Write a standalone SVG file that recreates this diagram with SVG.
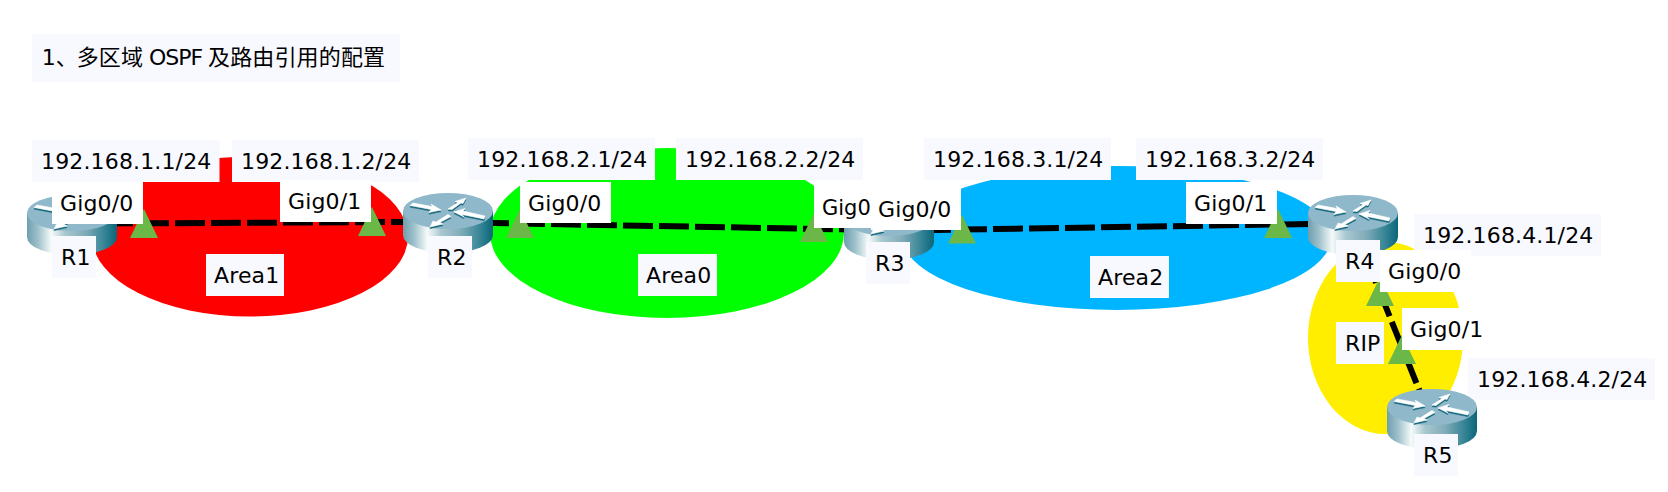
<svg xmlns="http://www.w3.org/2000/svg" xmlns:xlink="http://www.w3.org/1999/xlink" width="1668" height="492" viewBox="0 0 1668 492">
<style>
text{font-family:"DejaVu Sans","Noto Sans CJK SC",sans-serif;font-size:22px;fill:#000;letter-spacing:.15px}
.b{fill:#f8f9ff}
.w{fill:#fff}
.link{fill:none;stroke:#000;stroke-width:6;stroke-dasharray:30 6}
.tri{fill:#6bb748}
.arrow{fill:#fff;stroke:#fff;stroke-width:.6}
.shade{fill:#0f6377;stroke:#0f6377;stroke-width:.6}
</style>
<defs>
<linearGradient id="body" x1="0" y1="0" x2="1" y2="0">
<stop offset="0" stop-color="#6f9fae"/>
<stop offset=".12" stop-color="#9cc0ca"/>
<stop offset=".27" stop-color="#f6fafa"/>
<stop offset=".42" stop-color="#a9c8d0"/>
<stop offset=".65" stop-color="#7fabb8"/>
<stop offset=".88" stop-color="#2e8092"/>
<stop offset="1" stop-color="#0c6578"/>
</linearGradient>
<g id="router">
<path d="M0 18V42A45 18 0 0 0 90 42V18Z" fill="url(#body)"/>
<ellipse cx="45" cy="18" rx="45" ry="18" fill="#8fb8ca"/>
<g class="shade" transform="translate(0 1.6)">
<path d="M7 12.5L10 10L29 13.500L28 11L38 17L26 19.500L28 16.500Z"/>
<path d="M45 16L55 9.500L52 8.500L63 5L60 10.500L58 10L49 16.500Z"/>
<path d="M82 23L81 26L59 21.500L61 24L51 19L62 15.500L60 18Z"/>
<path d="M45 21.500L48 23.500L37 29.500L40 31L27 34L30 28L33 29Z"/>
</g>
<g class="arrow">
<path d="M7 12.5L10 10L29 13.500L28 11L38 17L26 19.500L28 16.500Z"/>
<path d="M45 16L55 9.500L52 8.500L63 5L60 10.500L58 10L49 16.500Z"/>
<path d="M82 23L81 26L59 21.500L61 24L51 19L62 15.500L60 18Z"/>
<path d="M45 21.500L48 23.500L37 29.500L40 31L27 34L30 28L33 29Z"/>
</g>
</g>
</defs>
<rect width="1668" height="492" fill="#fff"/>
<g id="areas">
<ellipse id="area-rip" cx="1385.5" cy="338" rx="77.5" ry="96" fill="#ffee00"/>
<ellipse id="area1" cx="250" cy="236.5" rx="158" ry="80" fill="#ff0000"/>
<ellipse id="area0" cx="667" cy="233" rx="177" ry="85" fill="#00ff00"/>
<ellipse id="area2" cx="1117" cy="238" rx="214" ry="72" fill="#00b5ff"/>
</g>
<g id="title"><rect class="b" x="32" y="34" width="368" height="48"/><text y="65"><tspan x="41.7">1、</tspan><tspan x="76.7">多区域 </tspan><tspan x="149" letter-spacing="-1">OSPF </tspan><tspan x="208">及路由引用的配置</tspan></text></g>
<g id="ip-labels">
<g id="ip-r1"><rect class="b" x="32" y="140" width="187.500" height="42"/><text x="41" y="169">192.168.1.1/24</text></g>
<g id="ip-r2-a"><rect class="b" x="232" y="140" width="187" height="42"/><text x="241" y="169">192.168.1.2/24</text></g>
<g id="ip-r2-b"><rect class="b" x="468" y="138" width="187" height="42"/><text x="477" y="167">192.168.2.1/24</text></g>
<g id="ip-r3-a"><rect class="b" x="676" y="138" width="187" height="42"/><text x="685" y="167">192.168.2.2/24</text></g>
<g id="ip-r3-b"><rect class="b" x="924" y="138" width="187" height="42"/><text x="933" y="167">192.168.3.1/24</text></g>
<g id="ip-r4-a"><rect class="b" x="1136" y="138" width="187" height="42"/><text x="1145" y="167">192.168.3.2/24</text></g>
<g id="ip-r4-b"><rect class="b" x="1414" y="214" width="187" height="42"/><text x="1423" y="243">192.168.4.1/24</text></g>
<g id="ip-r5"><rect class="b" x="1468" y="358" width="187" height="42"/><text x="1477" y="387">192.168.4.2/24</text></g>
</g>
<g id="connectors">
<path class="link" d="M103 223.500L410 222"/>
<path class="link" d="M479 222.800L850 229.500"/>
<path class="link" d="M921 230.200L1315 223.900"/>
<path class="link" d="M1365 255L1420 392"/>
</g>
<g id="R1"><use href="#router" xlink:href="#router" x="27" y="195"/></g>
<g id="R2"><use href="#router" xlink:href="#router" x="403" y="193"/></g>
<g id="R3"><use href="#router" xlink:href="#router" x="844" y="200"/></g>
<g id="R4"><use href="#router" xlink:href="#router" x="1308" y="195"/></g>
<g id="R5"><use href="#router" xlink:href="#router" x="1387" y="389"/></g>
<g id="ports">
<polygon class="tri" points="130,238 158,238 144,209"/>
<polygon class="tri" points="358,236 386,236 372,207"/>
<polygon class="tri" points="506,238 534,238 520,209"/>
<polygon class="tri" points="800,242 828,242 814,213"/>
<polygon class="tri" points="948,243.500 976,243.500 962,215"/>
<polygon class="tri" points="1264,238 1292,238 1278,209"/>
<polygon class="tri" points="1366,306 1394,306 1380,277"/>
<polygon class="tri" points="1388,364 1416,364 1402,335"/>
</g>
<g id="port-labels">
<g id="p1"><rect class="w" x="52" y="182" width="91" height="42"/><text x="60" y="211">Gig0/0</text></g>
<g id="p2"><rect class="w" x="280" y="180" width="91" height="42"/><text x="288" y="209">Gig0/1</text></g>
<g id="p3"><rect class="w" x="520" y="182" width="91" height="41"/><text x="528" y="211">Gig0/0</text></g>
<g id="p4"><rect class="w" x="814" y="185" width="91" height="43"/><text x="822" y="215" style="font-size:21px;letter-spacing:0">Gig0</text></g>
<g id="p5"><rect class="w" x="871" y="188" width="90" height="42"/><text x="878" y="217">Gig0/0</text></g>
<g id="p6"><rect class="w" x="1186" y="182" width="91" height="42"/><text x="1194" y="211">Gig0/1</text></g>
<g id="p7"><rect class="w" x="1380" y="250" width="91" height="42"/><text x="1388" y="279">Gig0/0</text></g>
<g id="p8"><rect class="w" x="1402" y="308" width="91" height="42"/><text x="1410" y="337">Gig0/1</text></g>
</g>
<g id="names">
<g><rect class="b" x="52" y="236" width="44" height="42"/><text x="61" y="265">R1</text></g>
<g><rect class="b" x="428" y="236" width="44" height="42"/><text x="437" y="265">R2</text></g>
<g><rect class="b" x="866" y="242" width="44" height="42"/><text x="875" y="271">R3</text></g>
<g><rect class="b" x="1336" y="240" width="44" height="42"/><text x="1345" y="269">R4</text></g>
<g><rect class="b" x="1414" y="434" width="44" height="42"/><text x="1423" y="463">R5</text></g>
<g><rect class="b" x="206" y="254" width="78" height="42"/><text x="214" y="283">Area1</text></g>
<g><rect class="b" x="638" y="254" width="79" height="42"/><text x="646" y="283">Area0</text></g>
<g><rect class="b" x="1090" y="256" width="79" height="42"/><text x="1098" y="285">Area2</text></g>
<g><rect class="b" x="1336" y="322" width="48" height="42"/><text x="1345" y="351">RIP</text></g>
</g>
</svg>
